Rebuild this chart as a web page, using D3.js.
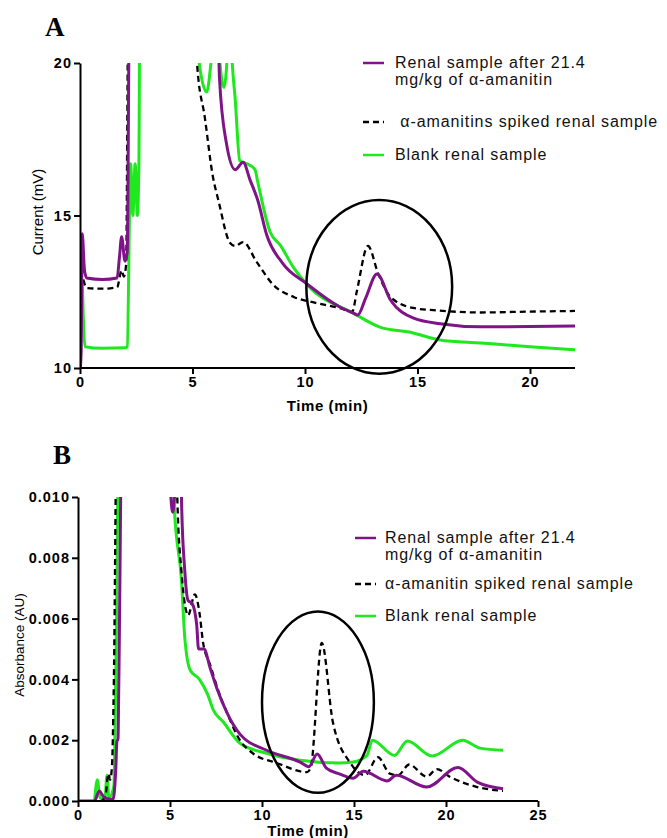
<!DOCTYPE html>
<html>
<head>
<meta charset="utf-8">
<script src="https://cdn.jsdelivr.net/npm/d3@7"></script>
<style>
  body { margin: 0; background: #fff; }
  svg { display: block; }
  .tick text { font-family: "Liberation Sans", Arial, sans-serif; font-weight: bold; font-size: 14.5px; letter-spacing: 1px; fill: #000; }
  .domain, .tick line { stroke: #000; stroke-width: 2px; }
</style>
</head>
<body>
<div class="canvas"></div>
<script>
// ---- Panel A data: [time (min), current (mV)] ----  values above 20 run off the top
var aRenal = [[0,9.9],[0.05,10.5],[0.1,14.4],[0.2,13.2],[0.3,12.95],[1.0,12.9],[1.65,12.95],[1.75,13.6],[1.85,14.3],[2.0,13.5],[2.1,13.8],[2.2,22],
  [6.1,22],[6.2,19.5],[6.5,17.4],[6.9,16.5],[7.25,16.75],[7.56,16.16],[7.9,15.5],[8.3,14.36],[9.0,13.44],[10.1,12.75],[11.55,12.0],[12.15,11.8],[12.35,11.74],
  [12.7,12.3],[13.2,13.08],[13.8,12.23],[14.8,11.64],[16.0,11.45],[17.8,11.35],[20,11.36],[22,11.38]];
var aSpiked = [[0.15,12.9],[0.3,12.62],[1.0,12.6],[1.65,12.65],[1.85,13.2],[1.95,13.0],[2.05,13.4],[2.15,22],
  [5.15,22],[5.2,20],[5.55,18.2],[5.9,16.3],[6.15,15.5],[6.67,14.1],[6.9,14.0],[7.25,14.13],[7.85,13.48],[8.6,12.72],[9.5,12.33],[10.5,12.13],[11.55,11.96],[12.1,11.84],
  [12.3,12.5],[12.8,14.0],[13.25,13.1],[13.8,12.33],[14.8,11.97],[16.0,11.88],[17.8,11.82],[20,11.85],[22,11.87]];
var aBlank = [[0.1,12.9],[0.22,10.7],[1.0,10.65],[2.0,10.66],[2.1,10.7],[2.25,16.7],[2.35,15.0],[2.45,16.7],[2.55,15.0],[2.62,16.8],[2.66,22],
  [5.25,22],[5.3,20],[5.63,19.05],[5.85,20.2],[6.1,22],[6.2,20.2],[6.4,19.2],[6.55,20.3],[6.65,22],[6.75,20.2],[6.9,18.8],[7.1,16.8],[7.55,16.65],[7.78,16.5],[7.9,16.1],[8.45,14.46],[8.9,14.03],
  [9.5,13.28],[10.1,12.72],[12.15,11.8],[13.3,11.35],[14.8,11.15],[16.0,10.92],[17.8,10.82],[20,10.7],[22,10.6]];
var aTicksY = [10, 15, 20];
var aTicksX = [0, 5, 10, 15, 20];
var aEllipse = [13.3, 12.66, 3.24, 2.85]; // cx, cy, rx, ry in data units

// ---- Panel B data: [time (min), absorbance (AU)] ----  values above 0.010 run off the top
var bRenal = [[0,0],[0.9,0],[1.15,0.00033],[1.45,0.0001],[1.9,0.00005],[2.05,0.001],[2.12,0.002],[2.17,0.002],[2.22,0.004],[2.4,0.013],
  [5.0,0.013],[5.05,0.0100],[5.15,0.0095],[5.25,0.0101],[5.3,0.013],[5.58,0.013],[5.63,0.0098],[5.8,0.0076],[5.98,0.0066],[6.2,0.0065],[6.45,0.0058],[6.55,0.0050],[6.85,0.0050],
  [7.17,0.0044],[7.55,0.0037],[8.1,0.0029],[8.8,0.0022],[10.25,0.00167],[12.07,0.00128],[12.55,0.00113],[13.0,0.00155],[13.5,0.00108],[14.2,0.00089],
  [14.95,0.00075],[15.5,0.00098],[16.8,0.00066],[17.3,0.00085],[18.95,0.00046],[20.65,0.0011],[21.7,0.00062],[23.1,0.0004]];
var bSpiked = [[1.3,0],[1.5,0.0002],[1.65,0.0009],[1.75,0.0007],[1.85,0.0012],[1.95,0.004],[2.12,0.013],
  [5.33,0.013],[5.4,0.0099],[5.63,0.0075],[5.9,0.0062],[5.98,0.0061],[6.35,0.0068],[6.6,0.0062],[6.8,0.0052],[7.17,0.0045],[7.7,0.0035],[8.1,0.0029],[8.8,0.002],
  [9.5,0.00157],[10.8,0.00125],[12.45,0.00095],[12.65,0.0011],[13.25,0.0052],[13.85,0.0026],[14.8,0.00125],[15.6,0.00085],[16.3,0.00144],[16.95,0.0009],
  [17.4,0.00085],[18.0,0.0012],[18.95,0.0008],[19.5,0.00105],[20.2,0.0008],[21.7,0.00046],[23.1,0.00033]];
var bBlank = [[0.9,0],[1.05,0.0007],[1.2,0.0001],[1.45,0.00005],[1.58,0.00085],[1.68,0.0001],[1.95,0.0005],[2.05,0.004],[2.25,0.013],
  [5.15,0.013],[5.22,0.0098],[5.63,0.0072],[5.8,0.0054],[6.1,0.0043],[6.6,0.0040],[7.05,0.0035],[7.35,0.003],[7.9,0.0026],[8.8,0.0019],[10.25,0.00157],[12.07,0.00134],
  [14.2,0.00125],[14.95,0.00128],[15.7,0.0015],[16.0,0.002],[17.2,0.0015],[17.9,0.00197],[19.25,0.00148],[20.9,0.002],[21.85,0.00174],[23.1,0.00167]];
var bTicksY = [0, 0.002, 0.004, 0.006, 0.008, 0.010];
var bTicksX = [0, 5, 10, 15, 20, 25];
var bEllipse = [13.04, 0.00325, 3.04, 0.00298];

var legendA = [["Renal sample after 21.4", "mg/kg of \u03b1-amanitin"], [" \u03b1-amanitins spiked renal sample"], ["Blank renal sample"]];
var legendB = [["Renal sample after 21.4", "mg/kg of \u03b1-amanitin"], ["\u03b1-amanitin spiked renal sample"], ["Blank renal sample"]];

var purple = "#7e1488", green = "#1fe81f";
var styles = [
  {stroke: purple, dash: null, width: 3},
  {stroke: "#000", dash: "6,4", width: 2.3},
  {stroke: green, dash: null, width: 3}
];

var svg = d3.select(".canvas").append("svg").attr("width", 667).attr("height", 838);
var font = "'Liberation Sans', Arial, sans-serif";

var drawPanel = function(cfg) {
  var x = d3.scaleLinear().domain(cfg.xDomain).range(cfg.xRange);
  var y = d3.scaleLinear().domain(cfg.yDomain).range(cfg.yRange);

  svg.append("clipPath").attr("id", cfg.id + "clip")
    .append("rect")
    .attr("x", cfg.xRange[0]).attr("y", cfg.yRange[1])
    .attr("width", cfg.xRange[1] - cfg.xRange[0] + 2)
    .attr("height", cfg.yRange[0] - cfg.yRange[1]);

  var line = d3.line().curve(d3.curveMonotoneX)
    .x(function(d){ return x(d[0]); }).y(function(d){ return y(d[1]); });
  var g = svg.append("g").attr("clip-path", "url(#" + cfg.id + "clip)");

  // green first, then dashed, purple on top
  [2, 1, 0].forEach(function(i){
    g.append("path")
      .attr("d", line(cfg.series[i]))
      .attr("fill", "none")
      .attr("stroke", styles[i].stroke)
      .attr("stroke-width", styles[i].width)
      .attr("stroke-dasharray", styles[i].dash)
      .attr("stroke-linejoin", "round");
  });

  // ellipse annotation
  var e = cfg.ellipse;
  svg.append("ellipse")
    .attr("cx", x(e[0])).attr("cy", y(e[1]))
    .attr("rx", x(e[0] + e[2]) - x(e[0]))
    .attr("ry", y(e[1]) - y(e[1] + e[3]))
    .attr("fill", "none").attr("stroke", "#000").attr("stroke-width", 2.5);

  svg.append("g")
    .attr("transform", "translate(0," + cfg.yRange[0] + ")")
    .call(d3.axisBottom(x).tickValues(cfg.xTicks).tickSize(6).tickPadding(3).tickSizeOuter(0))
    .select(".domain").attr("d", "M" + cfg.xRange[0] + ",0H" + cfg.xRange[1]);

  svg.append("g")
    .attr("transform", "translate(" + cfg.xRange[0] + ",0)")
    .call(d3.axisLeft(y).tickValues(cfg.yTicks).tickFormat(cfg.yFormat).tickSize(6).tickPadding(2).tickSizeOuter(0));

  svg.append("text")
    .attr("x", (cfg.xRange[0] + cfg.xRange[1]) / 2).attr("y", cfg.xTitleY)
    .attr("text-anchor", "middle")
    .style("font-family", font).style("font-weight", "bold").style("font-size", "15px")
    .style("letter-spacing", "0.6px")
    .text("Time (min)");

  svg.append("text")
    .attr("transform", "translate(" + cfg.yTitleX + "," + cfg.yTitleMid + ") rotate(-90)")
    .attr("text-anchor", "middle")
    .style("font-family", font).style("font-size", cfg.yTitleSize)
    .text(cfg.yTitle);

  svg.append("text")
    .attr("x", cfg.letter[1]).attr("y", cfg.letter[2])
    .style("font-family", "'Liberation Serif', 'Times New Roman', serif")
    .style("font-weight", "bold").style("font-size", "27px")
    .text(cfg.letter[0]);

  // legend
  var lg = cfg.legend;
  cfg.legendText.forEach(function(lines, i){
    var ly = lg.rows[i];
    svg.append("line")
      .attr("x1", lg.x).attr("x2", lg.x + 21)
      .attr("y1", ly).attr("y2", ly)
      .attr("stroke", styles[i].stroke)
      .attr("stroke-width", 2.5)
      .attr("stroke-dasharray", styles[i].dash ? "6,4" : null);
    lines.forEach(function(t, k){
      svg.append("text")
        .attr("x", lg.x + lg.gap).attr("y", ly + 5 + k * 17)
        .attr("xml:space", "preserve")
        .style("font-family", font).style("font-size", "16px").style("letter-spacing", "0.9px")
        .style("fill", "#111")
        .text(t);
    });
  });
};

drawPanel({
  id: "a", xDomain: [0, 22], xRange: [80, 575], yDomain: [10, 20], yRange: [368, 63],
  xTicks: aTicksX, yTicks: aTicksY, yFormat: d3.format("d"),
  series: [aRenal, aSpiked, aBlank], ellipse: aEllipse,
  xTitleY: 411, yTitle: "Current (mV)", yTitleX: 43, yTitleMid: 212, yTitleSize: "15px",
  letter: ["A", 45, 36],
  legend: {x: 363, gap: 32, rows: [63, 122, 155]}, legendText: legendA
});

drawPanel({
  id: "b", xDomain: [0, 25], xRange: [78, 538], yDomain: [0, 0.010], yRange: [801, 497],
  xTicks: bTicksX, yTicks: bTicksY, yFormat: d3.format(".3f"),
  series: [bRenal, bSpiked, bBlank], ellipse: bEllipse,
  xTitleY: 836, yTitle: "Absorbance (AU)", yTitleX: 24, yTitleMid: 645, yTitleSize: "13.5px",
  letter: ["B", 53, 464],
  legend: {x: 355, gap: 30, rows: [538, 584, 616]}, legendText: legendB
});
</script>
</body>
</html>
